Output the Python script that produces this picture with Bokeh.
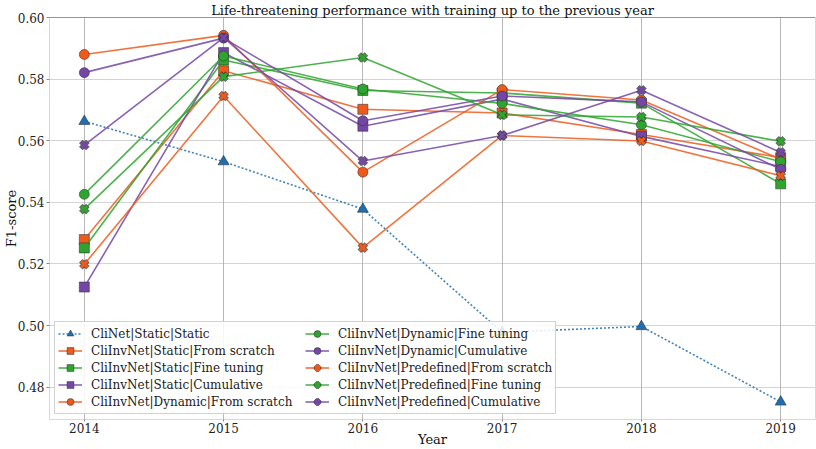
from bokeh.plotting import figure
from bokeh.models import Legend, LegendItem, Span, FixedTicker, Range1d
from bokeh.embed import file_html
from bokeh.resources import INLINE

years = [2014, 2015, 2016, 2017, 2018, 2019]
y_ticks = [0.48, 0.50, 0.52, 0.54, 0.56, 0.58, 0.60]

cli_static = [0.5663, 0.5532, 0.5378, 0.4978, 0.4997, 0.4752]
static_scratch = [0.5279, 0.5827, 0.5702, 0.5690, 0.5620, 0.5545]
static_ft = [0.5252, 0.5862, 0.5763, 0.5755, 0.5722, 0.5460]
static_cum = [0.5125, 0.5886, 0.5647, 0.5735, 0.5614, 0.5516]
dyn_scratch = [0.5880, 0.5942, 0.5498, 0.5766, 0.5732, 0.5540]
dyn_ft = [0.5426, 0.5875, 0.5768, 0.5721, 0.5652, 0.5532]
dyn_cum = [0.5821, 0.5933, 0.5665, 0.5745, 0.5726, 0.5507]
pre_scratch = [0.5199, 0.5745, 0.5253, 0.5617, 0.5599, 0.5486]
pre_ft = [0.5378, 0.5808, 0.5870, 0.5684, 0.5677, 0.5598]
pre_cum = [0.5586, 0.5935, 0.5534, 0.5617, 0.5764, 0.5562]

labels = [
    "CliNet|Static|Static",
    "CliInvNet|Static|From scratch",
    "CliInvNet|Static|Fine tuning",
    "CliInvNet|Static|Cumulative",
    "CliInvNet|Dynamic|From scratch",
    "CliInvNet|Dynamic|Fine tuning",
    "CliInvNet|Dynamic|Cumulative",
    "CliInvNet|Predefined|From scratch",
    "CliInvNet|Predefined|Fine tuning",
    "CliInvNet|Predefined|Cumulative",
]
series = [cli_static, static_scratch, static_ft, static_cum, dyn_scratch,
          dyn_ft, dyn_cum, pre_scratch, pre_ft, pre_cum]

BLUE = "#1f6fb0"
ORANGE = "#ee5a1c"
GREEN = "#2ea52e"
PURPLE = "#7447a6"
colors = [BLUE, ORANGE, GREEN, PURPLE, ORANGE, GREEN, PURPLE, ORANGE, GREEN, PURPLE]
markers = ["triangle", "square", "square", "square", "circle", "circle", "circle",
           "X", "X", "X"]

title_text = "Life-threatening performance with training up to the previous year"
x_title = "Year"
y_title = "F1-score"
x_lo, x_hi = 2013.75, 2019.25
y_lo, y_hi = 0.4695, 0.600

FONT = "DejaVu Serif"

p = figure(width=816, height=449, output_backend="svg", toolbar_location=None,
           x_range=Range1d(x_lo, x_hi), y_range=Range1d(y_lo, y_hi),
           min_border_top=0, min_border_left=0, min_border_right=1, min_border_bottom=0)
p.background_fill_color = "white"
p.border_fill_color = "white"
p.outline_line_color = "#d8d8d8"

p.title.text = title_text
p.title.align = "center"
p.title.text_font = FONT
p.title.text_font_size = "13px"
p.title.text_font_style = "normal"
p.title.text_color = "#111111"
p.title.standoff = 0
p.title.offset = 0

p.xgrid.grid_line_color = "#b8b8b8"
p.xgrid.grid_line_width = 1
p.ygrid.grid_line_color = "#a8a8a8"
p.ygrid.grid_line_dash = "1 1"

p.xaxis.ticker = FixedTicker(ticks=years)
p.yaxis.ticker = FixedTicker(ticks=y_ticks)
p.yaxis.major_label_overrides = {t: f"{t:.2f}" for t in y_ticks}
for ax in (p.xaxis[0], p.yaxis[0]):
    ax.axis_line_color = None
    ax.major_tick_in = 0
    ax.major_tick_out = 3
    ax.minor_tick_out = 0
    ax.minor_tick_in = 0
    ax.major_tick_line_color = "#888888"
    ax.major_label_standoff = 2
    ax.major_label_text_font = FONT
    ax.major_label_text_font_size = "12px"
    ax.major_label_text_color = "#222222"
    ax.axis_label_text_font = FONT
    ax.axis_label_text_font_size = "13px"
    ax.axis_label_text_font_style = "normal"
    ax.axis_label_text_color = "#111111"
    ax.axis_label_standoff = -4
p.xaxis.major_tick_out = 2
p.xaxis.major_label_standoff = 1
p.xaxis.axis_label = x_title
p.yaxis.axis_label = y_title

p.add_layout(Span(location=y_hi, dimension="width", line_color="#555555", line_width=1.2))

items = []
for lab, vals, col, mk in zip(labels, series, colors, markers):
    rs = []
    if mk == "triangle":
        rs.append(p.line(years, vals, line_color=col, line_width=1.6, line_dash="2 2", line_alpha=0.85))
    else:
        rs.append(p.line(years, vals, line_color=col, line_width=1.6, line_alpha=0.85))
    if mk == "X":
        rs.append(p.scatter(years, vals, marker="x", size=10, line_color="#333333", line_width=5, line_alpha=0.75))
        rs.append(p.scatter(years, vals, marker="x", size=9, line_color=col, line_width=3))
    else:
        sz = 11 if mk == "triangle" else 10
        rs.append(p.scatter(years, vals, marker=mk, size=sz, fill_color=col,
                            line_color="#333333", line_width=0.8, line_alpha=0.7))
    items.append(LegendItem(label=lab, renderers=rs))

legend = Legend(items=items, location="bottom_left", nrows=5,
                label_text_font=FONT, label_text_font_size="12px", label_text_color="#222222",
                glyph_width=24, glyph_height=17, spacing=0, label_standoff=9,
                padding=3, margin=5, label_width=214,
                border_line_color="#cccccc", border_line_alpha=0.9,
                background_fill_color="white", background_fill_alpha=0.85)
p.add_layout(legend, "center")

open("out.html", "w").write(file_html(p, INLINE))
